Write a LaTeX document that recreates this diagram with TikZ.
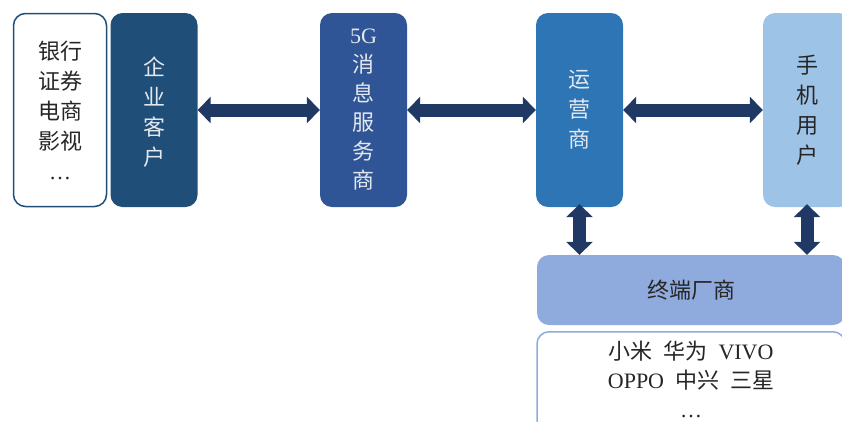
\documentclass[tikz,border=0pt]{standalone}
\usepackage{fontspec}
\setmainfont{Liberation Serif}
\newfontfamily\cjk{Noto Sans CJK SC}
\usetikzlibrary{arrows.meta}
\definecolor{cA}{HTML}{1F4E79}
\definecolor{cB}{HTML}{2F5597}
\definecolor{cC}{HTML}{2E75B6}
\definecolor{cD}{HTML}{9DC3E6}
\definecolor{cE}{HTML}{8FAADC}
\definecolor{cArr}{HTML}{203864}
\definecolor{lt}{HTML}{E3E8EF}
\definecolor{dk}{HTML}{262626}
\tikzset{
  box/.style={rounded corners=12pt, align=center, inner sep=0pt,
    font=\cjk\fontsize{22}{30}\selectfont},
  colbox/.style={box, minimum width=87pt, minimum height=194pt},
  barrow/.style={cArr, line width=13pt,
    {Triangle[length=13pt,width=26pt]}-{Triangle[length=13pt,width=26pt]}},
}
\begin{document}
\begin{tikzpicture}[x=1pt,y=-1pt]
\useasboundingbox (0,0) rectangle (842,421);
\node[box, draw=cA, line width=1.5pt, fill=white, minimum width=93pt, minimum height=193pt, text=dk] (ind) at (60,110)
  {银行\\证券\\电商\\影视\\{\rmfamily …}};
\node[colbox, fill=cA, text=lt] (qy) at (154,110) {\raisebox{-10pt}[0pt][0pt]{\begin{tabular}{@{}c@{}}企\\业\\客\\户\end{tabular}}};
\node[colbox, fill=cB, text=lt, font=\cjk\fontsize{22}{29}\selectfont] (sg) at (363.5,110) {{\rmfamily 5G}\\消\\息\\服\\务\\商};
\node[colbox, fill=cC, text=lt] (yys) at (579.5,110) {运\\营\\商};
\node[colbox, fill=cD, text=dk, minimum width=88pt] (sj) at (807,110) {手\\机\\用\\户};
\node[box, fill=cE, text=dk, minimum width=308pt, minimum height=70pt] (zd) at (691,290) {终端厂商};
\node[box, draw=cE, line width=1.5pt, fill=white, text=dk, minimum width=308pt, minimum height=100pt, anchor=north] (brand) at (691,331) {};
\node[text=dk, align=center, font=\cjk\fontsize{22}{29}\selectfont] (bt) at (691,379)
  {小米\enspace 华为\enspace {\rmfamily VIVO}\\{\rmfamily OPPO}\enspace 中兴\enspace 三星\\{\rmfamily …}};
\draw[barrow] (qy.east) -- (sg.west);
\draw[barrow] (sg.east) -- (yys.west);
\draw[barrow] (yys.east) -- (sj.west);
\draw[barrow] ([yshift=3pt]yys.south) -- (yys.south |- zd.north);
\draw[barrow] ([yshift=3pt]sj.south) -- (sj.south |- zd.north);
\end{tikzpicture}
\end{document}
